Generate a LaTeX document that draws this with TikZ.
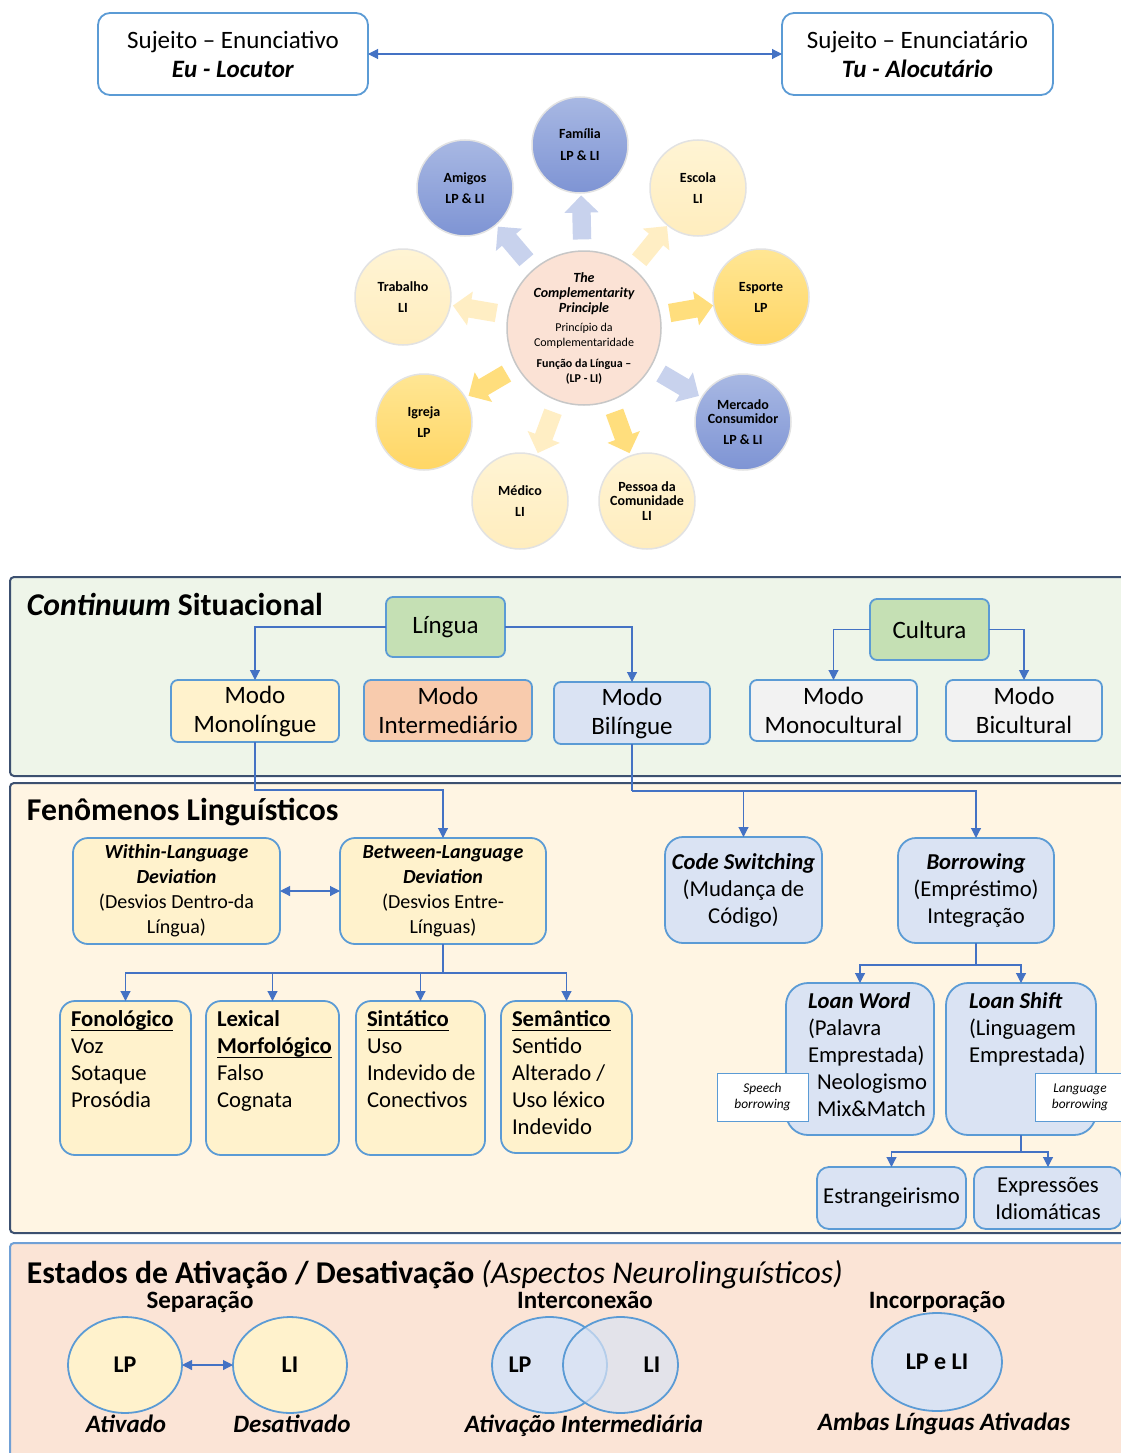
\documentclass[tikz,border=0pt]{standalone}
\usepackage{fontspec}
\setmainfont{Carlito}
\usetikzlibrary{arrows.meta,shapes.geometric,shapes.arrows}

\newcommand\setfs[2]{\fontsize{#1}{#2}\selectfont}
\newcommand\bi[1]{\textbf{\textit{#1}}}
\newcommand\undr[1]{\underline{\raisebox{0pt}[\height][1.5pt]{#1}}}
\newcommand\cttl[1]{{\setfs{14}{15.5}\bfseries\itshape #1}}

\definecolor{boxline}{RGB}{91,155,213}
\definecolor{linkblue}{RGB}{68,114,196}
\definecolor{panelline}{RGB}{60,80,112}
\definecolor{panelthree}{RGB}{112,160,214}
\definecolor{greenbg}{RGB}{238,245,233}
\definecolor{creambg}{RGB}{255,245,227}
\definecolor{peachbg}{RGB}{251,228,214}
\definecolor{greenfill}{RGB}{197,224,180}
\definecolor{creamfill}{RGB}{255,242,204}
\definecolor{salmonfill}{RGB}{248,203,173}
\definecolor{bluefill}{RGB}{218,227,243}
\definecolor{grayfill}{RGB}{242,242,242}
\definecolor{hubfill}{RGB}{251,226,213}
\definecolor{orbline}{RGB}{226,226,226}
\definecolor{orbbluetop}{RGB}{168,184,227}
\definecolor{orbbluebot}{RGB}{126,148,212}
\definecolor{orbgoldtop}{RGB}{255,230,148}
\definecolor{orbgoldbot}{RGB}{255,214,100}
\definecolor{orbcreamtop}{RGB}{255,244,212}
\definecolor{orbcreambot}{RGB}{255,237,190}
\definecolor{arrblue}{RGB}{200,210,237}
\definecolor{arrgold}{RGB}{255,222,125}
\definecolor{arrcream}{RGB}{255,238,196}

\begin{document}
\begin{tikzpicture}[x=1pt,y=-1pt,
  every node/.style={inner sep=0pt, outer sep=0pt},
  link/.style={draw=linkblue, line width=1.1pt},
  conn/.style={link, -{Triangle[length=10pt,width=10pt]}},
  dconn/.style={link, {Triangle[length=10pt,width=10pt]}-{Triangle[length=10pt,width=10pt]}},
  panel/.style={line width=2pt, rounded corners=4pt},
  topbox/.style={draw=boxline, line width=1.8pt, rounded corners=12pt, fill=white,
    minimum width=270pt, minimum height=82pt, align=center, font=\setfs{25}{29}},
  orb/.style={circle, minimum size=96pt, draw=orbline, line width=1.5pt,
    align=center, font=\setfs{14}{14.5}\bfseries},
  orbblue/.style={orb, top color=orbbluetop, bottom color=orbbluebot},
  orbgold/.style={orb, top color=orbgoldtop, bottom color=orbgoldbot},
  orbcream/.style={orb, top color=orbcreamtop, bottom color=orbcreambot},
  hubstyle/.style={circle, minimum size=154pt, draw=black!22, line width=1.5pt,
    fill=hubfill, align=center, font=\setfs{12}{15}},
  blockarr/.style={single arrow, sloped, allow upside down, inner xsep=0pt, inner ysep=9pt,
    minimum height=44pt, single arrow head extend=8pt, single arrow head indent=0pt},
  modebox/.style={draw=boxline, line width=1.8pt, rounded corners=7pt, align=center,
    font=\setfs{25}{29}},
  devbox/.style={draw=boxline, line width=1.8pt, rounded corners=15pt, fill=creamfill,
    align=center, font=\setfs{20}{25}},
  bluebox/.style={draw=boxline, line width=1.8pt, rounded corners=18pt, fill=bluefill,
    align=center, font=\setfs{22.7}{27}},
  catbox/.style={draw=boxline, line width=1.8pt, rounded corners=15pt, fill=creamfill,
    minimum width=131pt, minimum height=154pt},
  loanbox/.style={draw=boxline, line width=1.8pt, rounded corners=22pt, fill=bluefill,
    minimum height=152pt},
  boxtext/.style={anchor=north west, align=left, font=\setfs{22.7}{27}},
  tagbox/.style={draw=boxline, line width=1pt, fill=white, minimum width=91pt,
    minimum height=48pt, align=center, font=\setfs{13.4}{16}\itshape},
  paneltitle/.style={anchor=base west, font=\setfs{31.7}{36}\bfseries},
  statehead/.style={anchor=base, font=\setfs{25}{28}\bfseries},
  statefoot/.style={anchor=base, font=\setfs{25}{28}\bfseries\itshape},
  lang/.style={ellipse, draw=boxline, line width=1.8pt, minimum width=114pt,
    minimum height=96pt, font=\setfs{24}{26}\bfseries}
]
\useasboundingbox (0,0) rectangle (1121,1453);
\fill[white] (0,0) rectangle (1121,1453);

% ---------- speaker and addressee ----------
\node[topbox] (enun) at (233,54) {Sujeito – Enunciativo\\\bi{Eu - Locutor}};
\node[topbox, minimum width=271pt] (enat) at (917.5,54) {Sujeito – Enunciatário\\\bi{Tu - Alocutário}};
\draw[dconn] (enun) -- (enat);

% ---------- complementarity principle ----------
\node[hubstyle] (hub) at (584,328)
  {\cttl{The}\\\cttl{Complementarity}\\\cttl{Principle}\\[4pt]Princípio da\\Complementaridade\\[6pt]\textbf{Função da Língua –}\\\textbf{(LP - LI)}};
\node[orbblue]  (fam) at (580,145) {Família\\[7.5pt]LP \& LI};
\node[orbcream] (esc) at (698,188) {Escola\\[6.5pt]LI};
\node[orbgold]  (esp) at (761,297) {Esporte\\[6.5pt]LP};
\node[orbblue]  (mer) at (743,422) {Mercado\\Consumidor\\[6.5pt]LP \& LI};
\node[orbcream] (pes) at (647,501) {Pessoa da\\Comunidade\\LI};
\node[orbcream] (med) at (520,501) {Médico\\[6.5pt]LI};
\node[orbgold]  (igr) at (424,422) {Igreja\\[6.5pt]LP};
\node[orbcream] (tra) at (403,297) {Trabalho\\[6.5pt]LI};
\node[orbblue]  (ami) at (465,188) {Amigos\\[6.5pt]LP \& LI};
\foreach \o/\col in {fam/arrblue, ami/arrblue, mer/arrblue, esp/arrgold, pes/arrgold,
                     igr/arrgold, esc/arrcream, med/arrcream, tra/arrcream}
  \path (hub) -- node[blockarr, fill=\col] {} (\o);

% ---------- panels ----------
\draw[panel, draw=panelline, fill=greenbg] (10,577) rectangle (1150,776);
\draw[panel, draw=panelline, fill=creambg] (10,783) rectangle (1150,1233);
\draw[panel, draw=panelthree, fill=peachbg] (10,1243) rectangle (1150,1480);

% ---------- situational continuum ----------
\node[paneltitle] (ttlA) at (27,615) {\textit{Continuum} Situacional};
\node[modebox, fill=greenfill, minimum width=119pt, minimum height=60pt] (lin) at (445.5,627) {Língua};
\node[modebox, fill=greenfill, minimum width=119pt, minimum height=61pt] (cul) at (929.5,629.5) {Cultura};
\node[modebox, fill=creamfill, minimum width=168pt, minimum height=62pt] (mono) at (255,711) {Modo\\Monolíngue};
\node[modebox, fill=salmonfill, minimum width=168pt, minimum height=61pt] (inter) at (448,710.5) {Modo\\Intermediário};
\node[modebox, fill=bluefill, minimum width=156pt, minimum height=62pt] (bil) at (632,713) {Modo\\Bilíngue};
\node[modebox, fill=grayfill, minimum width=167pt, minimum height=61pt] (monoc) at (833.5,710.5) {Modo\\Monocultural};
\node[modebox, fill=grayfill, minimum width=156pt, minimum height=61pt] (bic) at (1024,710.5) {Modo\\Bicultural};
\draw[conn] (lin.west) -| (mono.north);
\draw[conn] (lin.east) -| (bil.north);
\draw[conn] (cul.west) -| (monoc.north);
\draw[conn] (cul.east) -| (bic.north);

% ---------- linguistic phenomena ----------
\node[paneltitle] (ttlB) at (27,820) {Fenômenos Linguísticos};
\node[devbox, minimum width=207pt, minimum height=106pt] (wit) at (176.5,891)
  {\bi{Within-Language}\\\bi{Deviation}\\(Desvios Dentro-da\\Língua)};
\node[devbox, minimum width=206pt, minimum height=106pt] (bet) at (443,891)
  {\bi{Between-Language}\\\bi{Deviation}\\(Desvios Entre-\\Línguas)};
\node[bluebox, minimum width=157pt, minimum height=106pt] (cs) at (743.5,890)
  {\bi{Code Switching}\\(Mudança de\\Código)};
\node[bluebox, minimum width=156pt, minimum height=105pt] (bor) at (976,890.5)
  {\bi{Borrowing}\\(Empréstimo)\\Integração};
\draw[dconn] (wit) -- (bet);
\draw[conn] (mono.south) -- ++(0,48) -| (bet.north);
\draw[link] (bil.south) -- ++(0,47) coordinate (bj);
\draw[conn] (bj) -| (bor.north);
\draw[conn] (bj -| cs.north) -- (cs.north);

% deviation categories
\node[catbox] (fon) at (125.5,1078) {};
\node[catbox, minimum width=133pt] (lex) at (272.5,1078) {};
\node[catbox, minimum width=129pt] (sin) at (420.5,1078) {};
\node[catbox, minimum height=152pt] (sem) at (566.5,1077) {};
\node[boxtext] (fontx) at (71,1011) {\undr{\textbf{Fonológico}}\\Voz\\Sotaque\\Prosódia};
\node[boxtext] (lextx) at (217,1011) {\textbf{Lexical}\\\undr{\textbf{Morfológico}}\\Falso\\Cognata};
\node[boxtext] (sintx) at (367,1011) {\undr{\textbf{Sintático}}\\Uso\\Indevido de\\Conectivos};
\node[boxtext] (semtx) at (512,1011) {\undr{\textbf{Semântico}}\\Sentido\\Alterado /\\Uso léxico\\Indevido};
\draw[link] (bet.south) -- ++(0,29) coordinate (bj2);
\draw[conn] (bj2) -| (fon.north);
\draw[conn] (bj2) -| (sem.north);
\draw[conn] (bj2 -| lex.north) -- (lex.north);
\draw[conn] (bj2 -| sin.north) -- (sin.north);

% borrowing branch
\node[loanbox, minimum width=148pt] (lw) at (860,1059) {};
\node[loanbox, minimum width=150pt] (ls) at (1021,1059) {};
\node[boxtext] (lwtx) at (808,993)
  {\bi{Loan Word}\\(Palavra\\Emprestada)\\\hspace*{9pt}Neologismo\\\hspace*{9pt}Mix\&Match};
\node[boxtext] (lstx) at (969,993)
  {\bi{Loan Shift}\\(Linguagem\\Emprestada)};
\node[tagbox] (speech) at (762.5,1097) {Speech\\borrowing};
\node[tagbox, minimum width=90pt] (langb) at (1080,1097) {Language\\borrowing};
\draw[link] (bor.south) -- ++(0,22) coordinate (bj3);
\draw[conn] (bj3) -| (lw.north);
\draw[conn] (bj3) -| (ls.north);
\node[bluebox, rounded corners=12pt, minimum width=149pt, minimum height=62pt] (estr) at (891.5,1198) {Estrangeirismo};
\node[bluebox, rounded corners=12pt, minimum width=148pt, minimum height=62pt] (expr) at (1048,1198) {Expressões\\Idiomáticas};
\draw[link] (ls.south) -- ++(0,17) coordinate (bj4);
\draw[conn] (bj4) -| (estr.north);
\draw[conn] (bj4) -| (expr.north);

% ---------- activation states ----------
\node[paneltitle] (ttlC) at (27,1283) {Estados de Ativação / Desativação \textmd{\textit{(Aspectos Neurolinguísticos)}}};
\node[statehead] (hsep) at (200,1308) {Separação};
\node[statehead] (hint) at (585,1308) {Interconexão};
\node[statehead] (hinc) at (937,1308) {Incorporação};

\node[lang, fill=creamfill] (slp) at (125,1365) {LP};
\node[lang, fill=creamfill] (sli) at (290,1365) {LI};
\draw[dconn] (slp) -- (sli);
\node[statefoot] (fsa) at (126,1432) {Ativado};
\node[statefoot] (fsd) at (292,1432) {Desativado};

\node[lang, fill=bluefill, minimum width=115pt] (ilp) at (549.5,1365) {};
\node[lang, fill=bluefill, fill opacity=0.7, minimum width=115pt] (ili) at (620.5,1365) {};
\node[font=\setfs{24}{26}\bfseries] (ilpt) at (520,1365) {LP};
\node[font=\setfs{24}{26}\bfseries] (ilit) at (652,1365) {LI};
\node[statefoot] (fint) at (584,1432) {Ativação Intermediária};

\node[lang, fill=bluefill, minimum width=130pt, minimum height=98pt] (both) at (937,1362) {LP e LI};
\node[statefoot] (finc) at (944,1430) {Ambas Línguas Ativadas};
\end{tikzpicture}
\end{document}
